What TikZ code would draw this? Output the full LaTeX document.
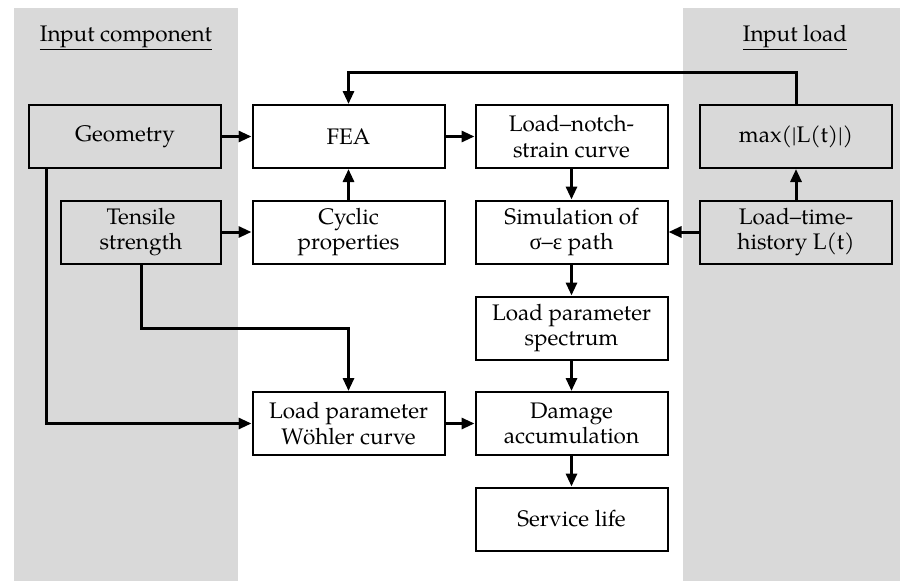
\documentclass[tikz,border=0pt]{standalone}
\usepackage{fontspec}
\setmainfont{TeX Gyre Pagella}
\newfontfamily\grk{Liberation Serif}
\usetikzlibrary{arrows.meta}
\definecolor{panel}{HTML}{D9D9D9}
\tikzset{
  box/.style={draw=black, line width=2pt, minimum width=192pt, minimum height=63pt,
    align=center, inner sep=0pt, font=\fontsize{22.5}{25.5}\selectfont},
  inbox/.style={box, fill=panel},
  outbox/.style={box, fill=white},
  arr/.style={line width=3pt, -{Triangle[length=13pt,width=11pt]}},
  head/.style={anchor=base, font=\fontsize{22.5}{25.5}\selectfont}
}
\begin{document}
\begin{tikzpicture}[x=1pt,y=-1pt]
\useasboundingbox (0,0) rectangle (900,581);
\fill[white] (0,0) rectangle (900,581);
\fill[panel] (14,8) rectangle (238,581);
\fill[panel] (683,8) rectangle (900,581);
\node[head] (hc) at (126,41) {\underline{Input component}};
\node[head] (hl) at (795,41) {\underline{Input load}};

\node[inbox] (geo) at (125,136.5) {Geometry};
\node[outbox] (fea) at (348.5,136.5) {FEA};
\node[inbox, minimum width=160pt] (ten) at (141,232) {Tensile\\strength};
\node[outbox] (cyc) at (348.5,232) {Cyclic\\properties};
\node[outbox] (lns) at (571.5,136.5) {Load–notch-\\strain curve};
\node[outbox] (sim) at (571.5,232) {Simulation of\\{\grk σ}–{\grk ε} path};
\node[inbox] (max) at (796,136.5) {max(|L(t)|)};
\node[inbox] (lth) at (796,232) {Load–time-\\history L(t)};
\node[outbox] (spec) at (571.5,328) {Load parameter\\spectrum};
\node[outbox] (woe) at (348.5,423.5) {Load parameter\\W\"ohler curve};
\node[outbox] (dam) at (571.5,423.5) {Damage\\accumulation};
\node[outbox] (svc) at (571.5,519) {Service life};

\coordinate (top) at (0,72);
\coordinate (gx) at (46,0);

\draw[arr] (geo) -- (fea);
\draw[arr] (fea) -- (lns);
\draw[arr] (cyc) -- (fea);
\draw[arr] (ten) -- (cyc);
\draw[arr] (lns) -- (sim);
\draw[arr] (lth) -- (sim);
\draw[arr] (lth) -- (max);
\draw[arr] (max.north) -- (max.north |- top) -| (fea.north);
\draw[arr] (geo.south -| gx) |- (woe.west);
\draw[arr] (ten.south) -- (ten.south |- spec) -| (woe.north);
\draw[arr] (woe) -- (dam);
\draw[arr] (sim) -- (spec);
\draw[arr] (spec) -- (dam);
\draw[arr] (dam) -- (svc);
\end{tikzpicture}
\end{document}
